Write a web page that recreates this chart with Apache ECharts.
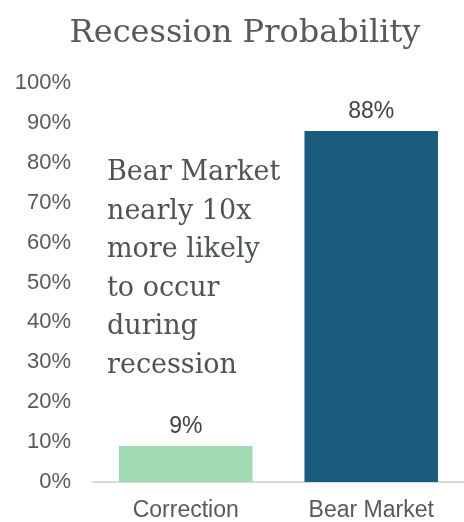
<!DOCTYPE html>
<html>
<head>
<meta charset="utf-8">
<script src="https://cdn.jsdelivr.net/npm/echarts@6/dist/echarts.min.js"></script>
<style>
  html, body { margin: 0; padding: 0; background: #fff; }
  #chart { width: 464px; height: 522px; }
</style>
</head>
<body>
<div id="chart"></div>
<script>
// Chart data
const categories = ['Correction', 'Bear Market'];
const probabilities = [9, 88];
const barColors = ['#a0d9b2', '#195c7b'];
const yTicks = [0, 10, 20, 30, 40, 50, 60, 70, 80, 90, 100];
const noteLines = ['Bear Market', 'nearly 10x', 'more likely', 'to occur', 'during', 'recession'];

const chart = echarts.init(document.getElementById('chart'));

chart.setOption({
  backgroundColor: '#ffffff',
  animation: false,
  title: {
    text: 'Recession Probability',
    left: 240,
    textAlign: 'center',
    top: 13,
    textStyle: {
      fontFamily: 'DejaVu Serif',
      fontWeight: 'normal',
      fontSize: 32,
      color: '#595959'
    }
  },
  grid: {
    left: 93,
    right: -3,
    top: 83,
    bottom: 39,
    containLabel: false
  },
  xAxis: {
    type: 'category',
    data: categories,
    axisLine: { show: true, lineStyle: { color: '#d9d9d9', width: 2 } },
    axisTick: { show: false },
    axisLabel: {
      margin: 17,
      fontFamily: 'Liberation Sans',
      fontSize: 23,
      color: '#595959'
    }
  },
  yAxis: {
    type: 'value',
    min: yTicks[0],
    max: yTicks[yTicks.length - 1],
    interval: yTicks[1] - yTicks[0],
    splitLine: { show: false },
    axisLine: { show: false },
    axisTick: { show: false },
    axisLabel: {
      margin: 22,
      fontFamily: 'Liberation Sans',
      fontSize: 22,
      color: '#595959',
      formatter: '{value}%'
    }
  },
  series: [{
    type: 'bar',
    data: probabilities.map((v, i) => ({ value: v, itemStyle: { color: barColors[i] } })),
    barCategoryGap: '28%',
    label: {
      show: true,
      position: 'top',
      distance: 8,
      fontFamily: 'Liberation Sans',
      fontSize: 23,
      color: '#404040',
      formatter: '{c}%'
    }
  }],
  graphic: [{
    type: 'text',
    left: 107,
    top: 154,
    style: {
      text: noteLines.join('\n'),
      font: '27px "DejaVu Serif"',
      lineHeight: 38.5,
      fill: '#4e5358'
    }
  }]
});
</script>
</body>
</html>
